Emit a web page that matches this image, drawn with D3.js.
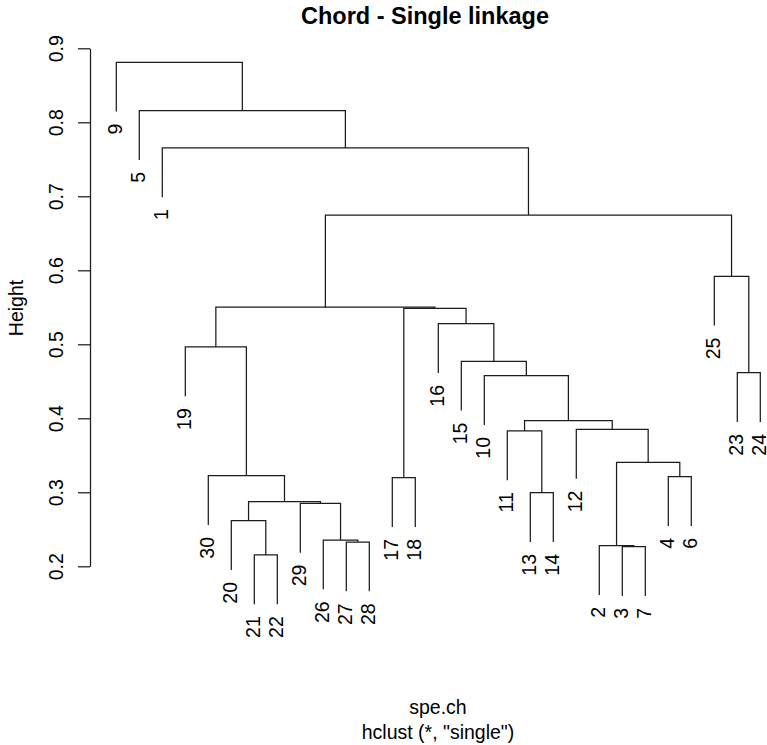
<!DOCTYPE html>
<html><head><meta charset="utf-8">
<script src="https://cdn.jsdelivr.net/npm/d3@7"></script>
<style>
body{margin:0;background:#fff}
text{font-family:"Liberation Sans",Arial,Helvetica,sans-serif;fill:#000}
</style>
</head><body><svg id="c" width="767" height="745"></svg>
<script>
// R-style hclust merge matrix: negative = leaf (site number), positive = earlier merge (1-based)
const mergeLeft   = [-21, -3, -2, -27, -26, -20, -29, 6, -13, -17, -4, -30, 3, -11, -12, 14, -10, -23, -15, -19, -16, 10, 20, -25, 23, -1, -5, -9];
const mergeRight  = [-22, -7, 2, -28, 4, 1, 5, 7, -14, -18, -6, 8, 11, 9, 13, 15, 16, -24, 17, 12, 19, 21, 22, 18, 24, 25, 26, 27];
const mergeHeight = [0.2153, 0.2265, 0.2278, 0.2328, 0.2355, 0.2616, 0.2850, 0.2873, 0.2995, 0.3197, 0.3211, 0.3224, 0.3405, 0.3830, 0.3850, 0.3968, 0.4576, 0.4616, 0.4770, 0.4964, 0.5278, 0.5486, 0.5504, 0.5919, 0.6747, 0.7653, 0.8157, 0.8810];
const yTicks = [0.2, 0.3, 0.4, 0.5, 0.6, 0.7, 0.8, 0.9];
const titleText = "Chord - Single linkage";
const xLabelText = "spe.ch";
const subLabelText = 'hclust (*, "single")';
const yLabelText = "Height";

const svg = d3.select("#c");
const FS = 19.5;
const stroke = "#1c1c1c";

// leaf order by walking the tree left to right
function leavesOf(node){
  if (node < 0) return [-node];
  return leavesOf(mergeLeft[node-1]).concat(leavesOf(mergeRight[node-1]));
}
const root = mergeHeight.length;
const order = leavesOf(root);

const x = d3.scalePoint().domain(order).range([116.3, 760.3]);
const y = d3.scaleLinear().domain([0.2, 0.9]).range([566.3, 48.3]);
const hang = 0.1 * (d3.max(mergeHeight) - d3.min(mergeHeight));

// x position of nodes
const nodeX = {};
function posX(node){
  if (node < 0) return x(-node);
  if (nodeX[node] !== undefined) return nodeX[node];
  const v = (posX(mergeLeft[node-1]) + posX(mergeRight[node-1])) / 2;
  nodeX[node] = v;
  return v;
}

const g = svg.append("g");
const leafInfo = [];
mergeHeight.forEach((h, i) => {
  const l = mergeLeft[i], r = mergeRight[i];
  const yh = y(h);
  const bottom = c => c < 0 ? y(h - hang) : y(mergeHeight[c-1]);
  const xl = posX(l), xr = posX(r);
  const yl = bottom(l), yr = bottom(r);
  g.append("path")
    .attr("d", `M${xl},${yl}V${yh}H${xr}V${yr}`)
    .attr("fill", "none").attr("stroke", stroke).attr("stroke-width", 1.25);
  if (l < 0) leafInfo.push({label: -l, x: xl, y: yl});
  if (r < 0) leafInfo.push({label: -r, x: xr, y: yr});
});

// leaf labels
svg.append("g").selectAll("text").data(leafInfo).join("text")
  .attr("transform", d => `translate(${d.x},${d.y + 12}) rotate(-90)`)
  .attr("y", 5.5)
  .attr("text-anchor", "end")
  .attr("font-size", FS)
  .text(d => d.label);

// y axis
const axis = svg.append("g").attr("transform", "translate(90,0)")
  .call(d3.axisLeft(y).tickValues(yTicks).tickSize(12).tickSizeOuter(0).tickFormat(d3.format(".1f")));
axis.select(".domain").attr("stroke", stroke).attr("stroke-width", 1.25);
axis.selectAll(".tick line").attr("stroke", stroke).attr("stroke-width", 1.25);
axis.selectAll(".tick text")
  .attr("x", null).attr("dy", null).attr("y", null)
  .attr("transform", "translate(-27,0) rotate(-90)")
  .attr("text-anchor", "middle")
  .attr("font-size", FS)
  .attr("font-family", "Liberation Sans, Arial, sans-serif")
  .attr("fill", "#000");

// title and labels
svg.append("text").attr("x", 425).attr("y", 23.5)
  .attr("text-anchor", "middle").attr("font-weight", "bold").attr("font-size", 23.5)
  .text(titleText);
svg.append("text").attr("x", 438).attr("y", 713.5)
  .attr("text-anchor", "middle").attr("font-size", FS).text(xLabelText);
svg.append("text").attr("x", 438).attr("y", 738.5)
  .attr("text-anchor", "middle").attr("font-size", FS).text(subLabelText);
svg.append("text").attr("transform", "translate(23,308) rotate(-90)")
  .attr("text-anchor", "middle").attr("font-size", FS).text(yLabelText);
</script>
</body></html>
